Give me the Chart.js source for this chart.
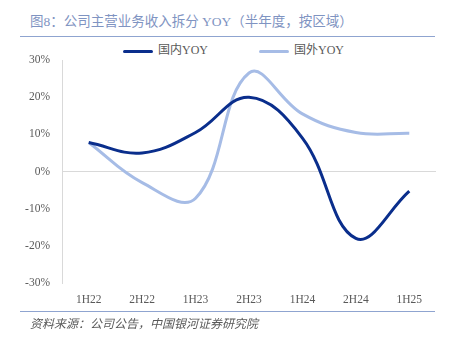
<!DOCTYPE html>
<html>
<head>
<meta charset="utf-8">
<script src="https://cdn.jsdelivr.net/npm/chart.js@4/dist/chart.umd.min.js"></script>
<style>
  html, body { margin: 0; padding: 0; background: #fff; width: 454px; height: 337px; overflow: hidden; }
  #wrap { position: absolute; left: 0; top: 0; width: 454px; height: 337px; }
  #title { position: absolute; left: 30px; top: 12px; font-family: "Liberation Serif", "Noto Sans CJK SC", serif; font-size: 13.5px; color: #7F94C2; white-space: nowrap; line-height: 20px; }
  #tline { position: absolute; left: 20px; top: 36px; width: 415px; height: 0; border-top: 1.5px solid #8FA4D0; }
  #bline { position: absolute; left: 20px; top: 311px; width: 415px; height: 0; border-top: 1.5px solid #8FA4D0; }
  #source { position: absolute; left: 30px; top: 315px; font-family: "Liberation Serif", "Noto Sans CJK SC", serif; font-style: italic; font-size: 12px; color: #595959; white-space: nowrap; line-height: 18px; }
  .leg { position: absolute; top: 42px; height: 16px; font-family: "Liberation Serif", "Noto Sans CJK SC", serif; font-size: 12px; color: #595959; white-space: nowrap; line-height: 16px; }
  .leg .sw { display: inline-block; width: 30px; height: 3px; vertical-align: middle; margin-right: 5px; border-radius: 1.5px; }
  #c { position: absolute; left: 0; top: 0; }
</style>
</head>
<body>
<div id="wrap">
  <div id="title">图8：公司主营业务收入拆分 YOY（半年度，按区域）</div>
  <div id="tline"></div>
  <div id="legend"></div>
  <canvas id="c" width="454" height="337"></canvas>
  <div id="bline"></div>
  <div id="source">资料来源：公司公告，中国银河证券研究院</div>
</div>
<script>
const categories = ["1H22", "2H22", "1H23", "2H23", "1H24", "2H24", "1H25"];
const seriesNames = ["国内YOY", "国外YOY"];
const domesticYoY = [7.8, 5.0, 10.5, 20.0, 9.0, -18.0, -5.3];
const overseasYoY = [7.8, -3.0, -7.2, 26.5, 15.5, 10.5, 10.3];
const yTicks = [-30, -20, -10, 0, 10, 20, 30];
const colors = ["#0A2E8C", "#A6BCE6"];

const legendLefts = [123, 259];
const legendEl = document.getElementById('legend');
seriesNames.forEach((n, i) => {
  const d = document.createElement('div');
  d.className = 'leg';
  d.style.left = legendLefts[i] + 'px';
  d.innerHTML = '<span class="sw" style="background:' + colors[i] + '"></span>' + n;
  legendEl.appendChild(d);
});

const serif = "'Liberation Serif', 'Noto Sans CJK SC', serif";
new Chart(document.getElementById('c'), {
  type: 'line',
  data: {
    labels: categories,
    datasets: [
      { label: seriesNames[0], data: domesticYoY, borderColor: colors[0], backgroundColor: colors[0], borderWidth: 3, tension: 0.4, pointRadius: 0, fill: false },
      { label: seriesNames[1], data: overseasYoY, borderColor: colors[1], backgroundColor: colors[1], borderWidth: 3, tension: 0.4, pointRadius: 0, fill: false }
    ]
  },
  options: {
    responsive: false,
    animation: false,
    devicePixelRatio: 1,
    layout: { padding: { top: 60, bottom: 26, left: 20, right: 18 } },
    plugins: { legend: { display: false }, tooltip: { enabled: false } },
    scales: {
      x: {
        offset: true,
        grid: { display: false, drawTicks: false },
        border: { display: false },
        ticks: { color: '#595959', font: { family: serif, size: 11.5 }, padding: 10, maxRotation: 0 },
        afterFit: s => { s.height = 28; }
      },
      y: {
        min: -30, max: 30,
        afterBuildTicks: s => { s.ticks = yTicks.map(v => ({ value: v })); },
        grid: { color: ctx => (ctx.tick && ctx.tick.value === 0) ? '#D9D9D9' : 'rgba(0,0,0,0)', lineWidth: 1, drawTicks: false },
        border: { display: true, color: '#D9D9D9', width: 1 },
        ticks: { color: '#595959', font: { family: serif, size: 11.5 }, padding: 12, callback: v => v + '%' },
        afterFit: s => { s.width = 42; }
      }
    }
  }
});
</script>
</body>
</html>
